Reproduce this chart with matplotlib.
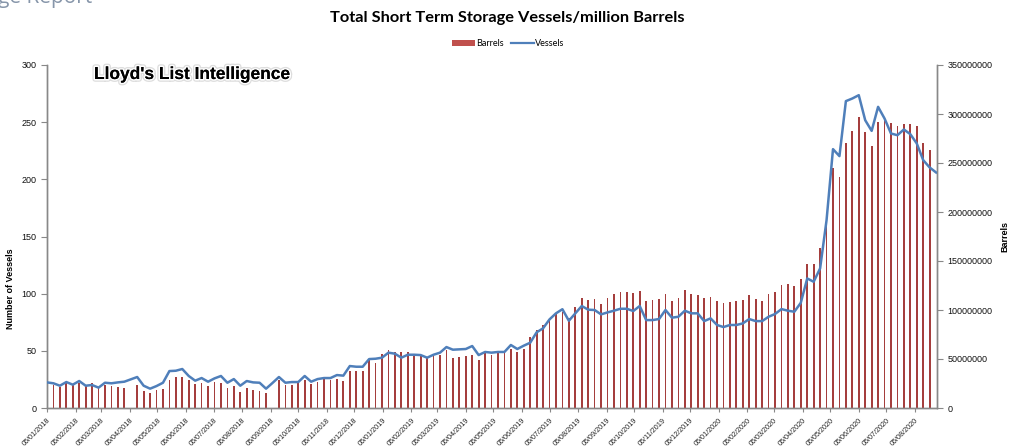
import matplotlib
matplotlib.use('Agg')
import matplotlib.pyplot as plt
import matplotlib.patheffects as pe
from matplotlib.patches import Patch
from matplotlib.lines import Line2D
from matplotlib.ticker import MultipleLocator, FuncFormatter
import numpy as np
import pandas as pd

# ---------------- data ----------------
start_date = '2018-01-05'
vessels = [
    22.4, 21.6, 19.5, 22.7, 20.4, 23.6, 19.5, 20.1, 17.8, 22.1,
    21.6, 22.4, 23.0, 25.1, 27.1, 19.5, 16.9, 19.2, 22.1, 32.3,
    32.6, 34.1, 28.0, 23.9, 26.2, 23.0, 25.9, 28.0, 22.1, 25.3,
    19.5, 23.6, 22.4, 22.1, 16.9, 21.9, 27.1, 22.1, 22.7, 22.7,
    28.0, 23.0, 25.3, 26.2, 26.2, 28.8, 28.3, 36.7, 36.1, 36.1,
    42.8, 43.1, 44.0, 48.4, 47.5, 44.0, 46.6, 46.6, 46.3, 44.0,
    46.6, 48.4, 53.3, 51.0, 51.3, 51.6, 54.2, 46.3, 49.0, 48.4,
    49.0, 49.0, 55.1, 51.6, 54.5, 57.1, 66.2, 69.7, 77.5, 82.8,
    86.4, 76.3, 82.8, 89.2, 86.0, 85.7, 81.9, 83.6, 85.1, 86.8,
    86.8, 84.8, 89.2, 76.9, 76.9, 77.8, 85.7, 79.0, 79.8, 85.1,
    82.8, 82.8, 76.0, 78.4, 72.6, 70.8, 72.6, 72.6, 74.0, 77.8,
    76.0, 76.0, 79.8, 82.2, 86.5, 85.1, 84.2, 92.0, 113.3, 110.4,
    122.1, 164.3, 226.4, 220.3, 268.4, 270.7, 273.6, 251.7, 242.4, 263.4,
    253.2, 240.1, 238.6, 243.6, 239.5, 231.4, 216.8, 210.4, 206.0,
]
# million barrels (None = no bar that week)
barrels_m = [
    26.2, 23.5, 21.8, 25.9, 23.5, 25.9, 22.4, 25.2, 21.0, 23.5,
    22.4, 21.4, 20.4, None, 23.5, 17.3, 15.6, 18.4, 19.4, 28.6,
    31.3, 32.0, 28.6, 24.5, 25.9, 22.8, 26.5, 25.5, 20.4, 22.4,
    16.7, 20.4, 18.4, 17.3, 15.6, None, 28.6, 23.5, 23.5, 26.9,
    28.6, 24.5, 26.9, 29.6, 28.6, 29.6, 27.6, 37.8, 37.8, 37.8,
    50.0, 45.6, 54.8, 59.2, 57.1, 57.1, 57.1, 53.4, 53.4, 51.4,
    53.4, 54.1, 59.2, 51.4, 52.4, 53.1, 54.1, 49.0, 56.5, 54.1,
    55.8, 56.8, 60.2, 57.1, 60.2, 72.4, 79.6, 84.7, 89.8, 97.3,
    97.6, 92.0, 102.7, 112.6, 110.2, 111.2, 106.5, 112.6, 116.7, 118.7,
    118.4, 117.7, 119.4, 109.2, 110.2, 111.2, 116.7, 109.2, 112.6, 120.4,
    116.7, 115.3, 112.6, 113.3, 109.2, 107.1, 108.5, 109.5, 110.2, 115.6,
    111.2, 109.2, 116.7, 118.4, 125.5, 126.5, 124.6, 131.6, 146.9, 146.9,
    163.3, 188.4, 244.9, 235.7, 270.7, 282.7, 297.3, 282.0, 267.3, 291.8,
    294.6, 291.2, 287.8, 289.8, 289.8, 287.8, 270.7, 263.3, None,
]
title = 'Total Short Term Storage Vessels/million Barrels'
left_label = 'Number of Vessels'
right_label = 'Barrels'
watermark = "Lloyd's List Intelligence"
header_fragment = 'ge Report'

dates = pd.date_range(start_date, periods=len(vessels), freq='7D')
barrels = np.array([np.nan if b is None else b * 1e6 for b in barrels_m])
tick_dates = pd.date_range('2018-01-01', '2020-08-01', freq='MS') + pd.Timedelta(days=4)

# ---------------- figure ----------------
W, H = 1014, 446
fig = plt.figure(figsize=(W / 100, H / 100), dpi=100)
L, R, T, B = 47, 937, 65, 408
ax = fig.add_axes([L / W, 1 - B / H, (R - L) / W, (B - T) / H])
ax2 = ax.twinx()

red = '#A53E3D'
blue = '#4F7FBA'
gray = '#888888'

ax2.bar(dates, barrels, width=1.9, color=red, zorder=1)
ax.plot(dates, vessels, color=blue, lw=1.8, zorder=3, solid_joinstyle='round')

ax.set_zorder(ax2.get_zorder() + 1)
ax.patch.set_visible(False)

x0 = pd.Timestamp(start_date)
ax.set_xlim(x0, x0 + pd.Timedelta(days=967))
ax.set_ylim(0, 300)
ax2.set_ylim(0, 350e6)
ax.yaxis.set_major_locator(MultipleLocator(50))
ax2.yaxis.set_major_locator(MultipleLocator(50e6))
ax2.yaxis.set_major_formatter(FuncFormatter(lambda v, p: f'{int(round(v))}'))

ax.set_xticks(tick_dates)
ax.set_xticklabels([d.strftime('%d/%m/%Y') for d in tick_dates], rotation=45,
                   ha='right', va='top', rotation_mode='anchor',
                   fontsize=5.2, family='Liberation Sans', color='#222222')

for a in (ax, ax2):
    a.spines['top'].set_visible(False)
    for s in ('left', 'right', 'bottom'):
        a.spines[s].set_color(gray)
        a.spines[s].set_linewidth(1.0)
    a.tick_params(colors=gray, length=4, width=0.8)
ax.tick_params(axis='y', labelsize=6.5, labelcolor='#111111')
ax2.tick_params(axis='y', labelsize=6.5, labelcolor='#111111')
ax.tick_params(axis='x', labelcolor='#222222', length=3)
for lab in ax.get_yticklabels() + ax2.get_yticklabels():
    lab.set_family('Liberation Sans')

ax.set_ylabel(left_label, fontsize=6.5, fontweight='bold', family='Liberation Sans')
ax.yaxis.set_label_coords(-32 / (R - L), (B - 289) / (B - T))
ax2.set_ylabel(right_label, fontsize=6.5, fontweight='bold', family='Liberation Sans')
ax2.yaxis.set_label_coords(1 + 63 / (R - L), 0.5)

fig.text(507 / W, 1 - 18 / H, title, ha='center', va='center',
         fontsize=11.8, fontweight='bold', family='Lato')

handles = [Patch(facecolor='#C0504D', edgecolor='none'), Line2D([0], [0], color=blue, lw=1.6)]
fig.legend(handles, ['Barrels', 'Vessels'], loc='center', bbox_to_anchor=(508 / W, 1 - 44 / H),
           ncol=2, frameon=False, prop={'family': 'Lato', 'size': 6.5},
           handlelength=2.6, handleheight=0.6, handletextpad=0.1, columnspacing=0.8)

fig.text(94 / W, 1 - 79 / H, watermark, ha='left', va='baseline', fontsize=12.5,
         fontweight='bold', family='Liberation Sans', color='black',
         path_effects=[pe.withStroke(linewidth=4, foreground='#cfcfcf', alpha=0.7),
                       pe.withStroke(linewidth=2.2, foreground='white'), pe.Normal()])

fig.text(-0.002, 1.0 + 2 / H, header_fragment, ha='left', va='center', fontsize=15,
         family='Open Sans', color='#8796AA')

fig.savefig('out.png', dpi=100)
